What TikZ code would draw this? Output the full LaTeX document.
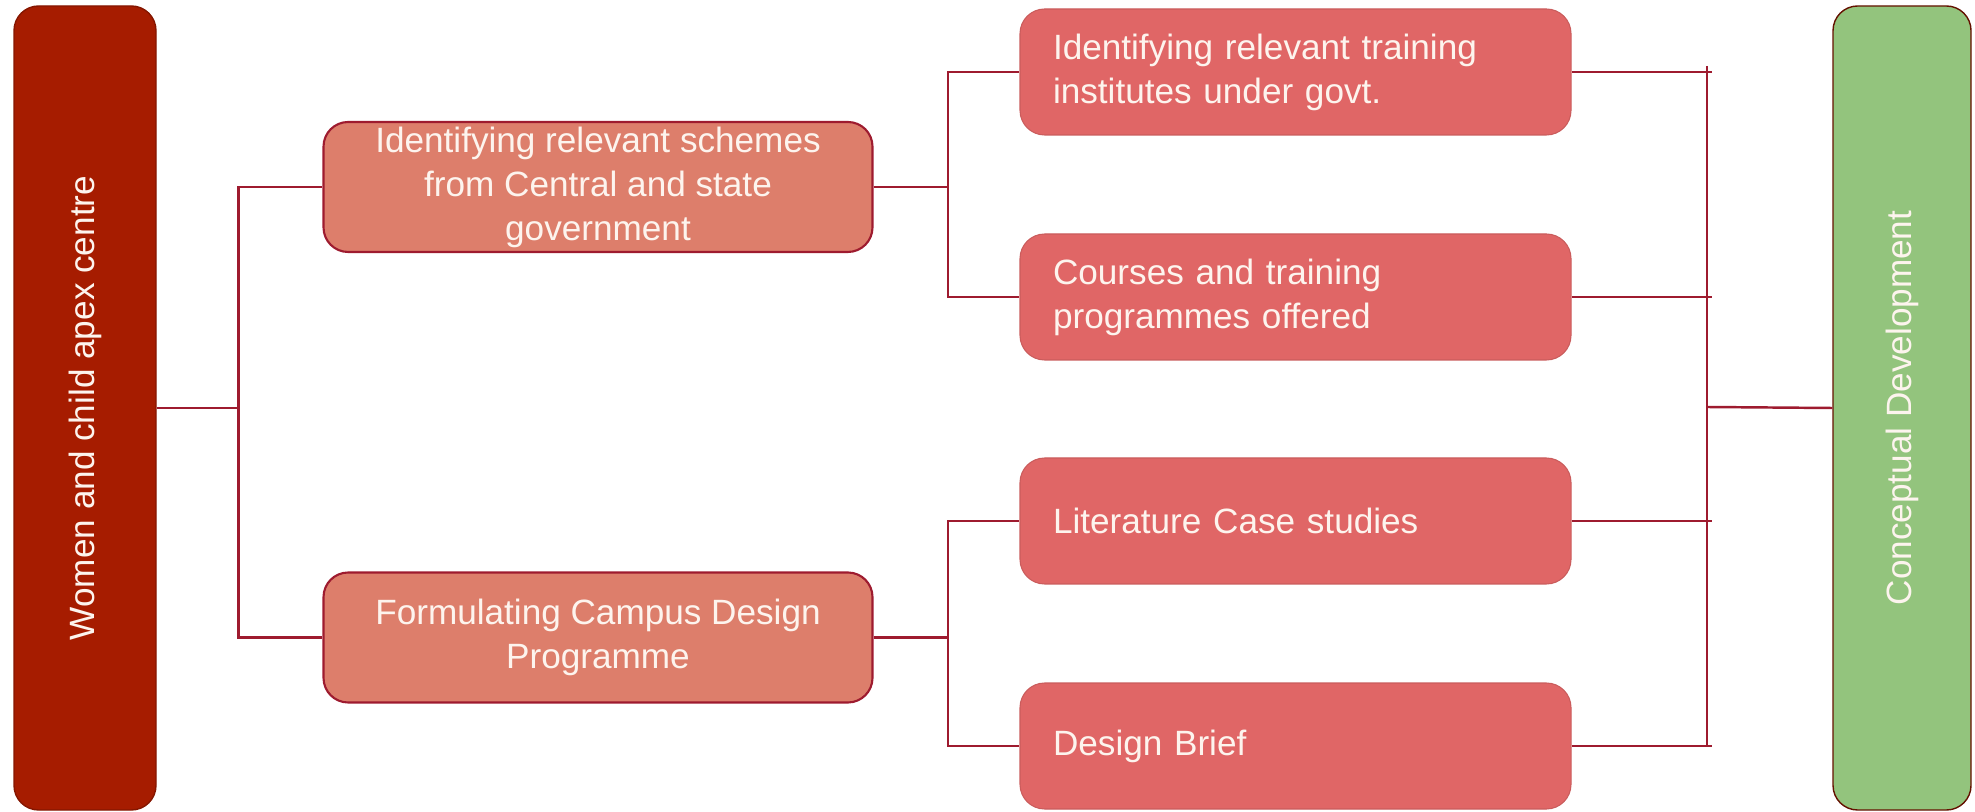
\documentclass[tikz,border=0pt]{standalone}
\usepackage{fontspec}
\setmainfont{Liberation Sans}
\usepackage{tikz}

\definecolor{apexred}{HTML}{A61C00}
\definecolor{schemered}{HTML}{DD7E6B}
\definecolor{taskred}{HTML}{E06666}
\definecolor{devgreen}{HTML}{93C47D}
\definecolor{linkred}{HTML}{9E1B2F}
\definecolor{labelwhite}{HTML}{FDF4EE}

\tikzset{
  sidebox/.style={rounded corners=7pt, minimum width=1.42cm, minimum height=8.04cm, inner sep=0pt},
  sidetext/.style={rotate=90, text=labelwhite, font=\fontsize{10}{12.5}\selectfont},
  stagebox/.style={rounded corners=7pt, fill=schemered, draw=linkred, line width=0.6pt,
    minimum width=5.49cm, minimum height=1.30cm, inner ysep=0.5pt, align=center, text=labelwhite,
    font=\fontsize{10}{12.5}\selectfont},
  taskbox/.style={rounded corners=7pt, fill=taskred, draw=taskred!90!black, line width=0.3pt,
    minimum width=5.51cm, minimum height=1.26cm, text width=4.85cm, inner xsep=0.33cm,
    align=left, text=labelwhite, font=\fontsize{10}{12.5}\selectfont},
  link/.style={draw=linkred, line width=0.7pt},
}

\begin{document}
\begin{tikzpicture}

    \useasboundingbox (0,0) rectangle (19.75,-8.12);

    % Side columns
    \node[sidebox, fill=apexred, draw=apexred!80!black] (women) at (0.85,-4.08) {};
    \node[sidetext] (womenlabel) at (women.center) {Women and child apex centre};
    \node[sidebox, minimum width=1.38cm, fill=devgreen, draw=apexred!60!black] (dev) at (19.02,-4.08) {};
    \node[sidetext] (devlabel) at (dev.center) {Conceptual Development};

    % Second column
    \node[stagebox] (schemes) at (5.98,-1.87) {Identifying relevant schemes\\from Central and state\\government};
    \node[stagebox] (formulate) at (5.98,-6.375) {Formulating Campus Design\\Programme};

    % Third column
    \node[taskbox] (inst) at (12.955,-0.72) {Identifying relevant training\\institutes under govt.};
    \node[taskbox] (courses) at (12.955,-2.97) {Courses and training\\programmes offered};
    \node[taskbox] (lit) at (12.955,-5.21) {Literature Case studies};
    \node[taskbox] (brief) at (12.955,-7.46) {Design Brief};

    % Branches from the apex centre
    \draw[link] (women.east) -- ++(0.82,0) coordinate (ljoin);
    \draw[link] (ljoin) |- (schemes.west);
    \draw[link] (ljoin) |- (formulate.west);

    % Branches to the third column
    \draw[link] (schemes.east) -- ++(0.745,0) coordinate (ujoin);
    \draw[link] (ujoin) |- (inst.west);
    \draw[link] (ujoin) |- (courses.west);
    \draw[link] (formulate.east) -- ++(0.745,0) coordinate (djoin);
    \draw[link] (djoin) |- (lit.west);
    \draw[link] (djoin) |- (brief.west);

    % Gathering line
    \coordinate (rbus) at (17.07,-4.07);
    \foreach \n in {inst,courses,lit,brief} {
        \draw[link] (\n.east) -- ([xshift=0.05cm]\n.east -| rbus);
    }
    \draw[link] ([yshift=0.06cm]inst.east -| rbus) -- (brief.east -| rbus);
    \draw[link] (rbus) -- (dev.west);

\end{tikzpicture}
\end{document}
